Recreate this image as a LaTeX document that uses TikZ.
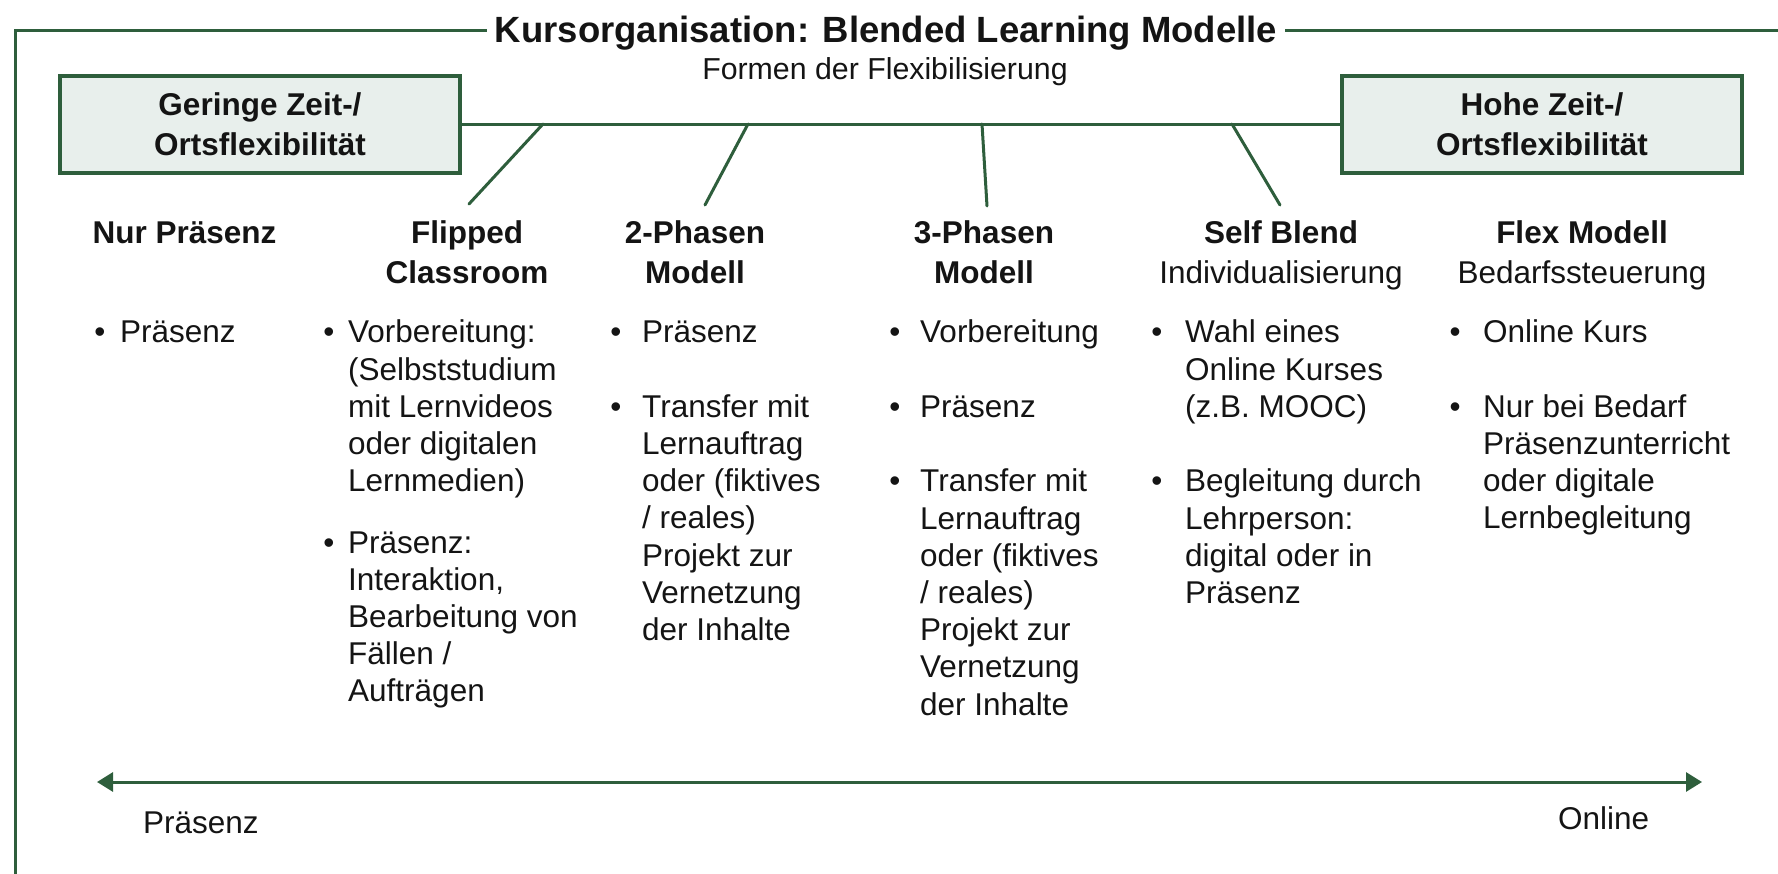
\documentclass[tikz,border=0pt]{standalone}
\usepackage{fontspec}
\setmainfont{Liberation Sans}
\usetikzlibrary{arrows.meta}

\definecolor{framegreen}{RGB}{46,94,60}
\definecolor{boxfill}{RGB}{232,239,236}
\definecolor{ink}{RGB}{20,20,20}

\newcommand\bodyfont{\fontsize{31.5}{37.2}\selectfont}
\newcommand\headfont{\fontsize{31.5}{39.5}\selectfont}
\newcommand\boxfont{\fontsize{31.5}{40}\selectfont\bfseries}

% stacked lines whose baseline is that of the first line
\newcommand\leftlines[1]{\begin{tabular}[t]{@{}l@{}}#1\end{tabular}}
\newcommand\centerlines[1]{\begin{tabular}[t]{@{}c@{}}#1\end{tabular}}

% one bullet point: name, bullet x, text x, baseline y, text
\newcommand\bulletitem[5]{%
  \node[dot] (#1-dot) at (#2,#4) {•};
  \node[itemtext] (#1) at (#3,#4) {\leftlines{#5}};
}

\begin{document}
\begin{tikzpicture}[x=1pt,y=-1pt,
  greenline/.style={draw=framegreen,line width=3pt},
  flexbox/.style={draw=framegreen,line width=3.5pt,fill=boxfill,
    minimum width=400pt,minimum height=97pt,inner sep=0pt,
    align=center,font=\boxfont,text=ink},
  header/.style={anchor=base,font=\headfont,text=ink,inner sep=0pt},
  dot/.style={anchor=base,font=\bodyfont,text=ink,inner sep=0pt},
  itemtext/.style={anchor=base west,font=\bodyfont,text=ink,inner sep=0pt},
]
\useasboundingbox (0,0) rectangle (1778,874);

% outer frame with the title set into its top edge
\draw[greenline,line join=miter] (15,874) -- (15,31) -- (1778,31);
\node[fill=white,inner xsep=8pt,inner ysep=2pt,text=ink,
      font=\fontsize{36.5}{40}\selectfont\bfseries] (title) at (886,33)
  {Kursorganisation: Blended Learning Modelle};
\node[font=\fontsize{30.3}{37}\selectfont,text=ink] (subtitle) at (885,72)
  {Formen der Flexibilisierung};

% flexibility scale
\node[flexbox] (low) at (260,124.5) {Geringe Zeit-/\\Ortsflexibilität};
\node[flexbox] (high) at (1542,124.5) {Hohe Zeit-/\\Ortsflexibilität};
\draw[greenline] (low.east) -- (high.west);

% column headers
\node[header,font=\headfont\bfseries] (nur) at (184.5,244) {Nur Präsenz};
\node[header,font=\headfont\bfseries] (flipped) at (467,244) {\centerlines{Flipped\\Classroom}};
\node[header,font=\headfont\bfseries] (zwei) at (695,244) {\centerlines{2-Phasen\\Modell}};
\node[header,font=\headfont\bfseries] (drei) at (984,244) {\centerlines{3-Phasen\\Modell}};
\node[header] (self) at (1281,244) {\centerlines{\textbf{Self Blend}\\Individualisierung}};
\node[header] (flex) at (1582,244) {\centerlines{\textbf{Flex Modell}\\Bedarfssteuerung}};

% ties from the scale down to the models
\coordinate (t1) at (543,124);  \coordinate (e1) at (469,204);
\coordinate (t2) at (748,124);  \coordinate (e2) at (705,205);
\coordinate (t3) at (982,124);  \coordinate (e3) at (987,206);
\coordinate (t4) at (1232,124); \coordinate (e4) at (1280,205);
\foreach \i in {1,...,4} \draw[greenline,line cap=round] (t\i) -- (e\i);

% bullet lists
\bulletitem{c1a}{100}{120}{343}{Präsenz}

\bulletitem{c2a}{329}{348}{343}{Vorbereitung:\\(Selbststudium\\mit Lernvideos\\oder digitalen\\Lernmedien)}
\bulletitem{c2b}{329}{348}{553}{Präsenz:\\Interaktion,\\Bearbeitung von\\Fällen /\\Aufträgen}

\bulletitem{c3a}{616}{642}{343}{Präsenz}
\bulletitem{c3b}{616}{642}{417.4}{Transfer mit\\Lernauftrag\\oder (fiktives\\/ reales)\\Projekt zur\\Vernetzung\\der Inhalte}

\bulletitem{c4a}{895}{920}{343}{Vorbereitung}
\bulletitem{c4b}{895}{920}{417.4}{Präsenz}
\bulletitem{c4c}{895}{920}{491.8}{Transfer mit\\Lernauftrag\\oder (fiktives\\/ reales)\\Projekt zur\\Vernetzung\\der Inhalte}

\bulletitem{c5a}{1157}{1185}{343}{Wahl eines\\Online Kurses\\(z.B. MOOC)}
\bulletitem{c5b}{1157}{1185}{491.8}{Begleitung durch\\Lehrperson:\\digital oder in\\Präsenz}

\bulletitem{c6a}{1455}{1483}{343}{Online Kurs}
\bulletitem{c6b}{1455}{1483}{417.4}{Nur bei Bedarf\\Präsenzunterricht\\oder digitale\\Lernbegleitung}

% presence / online axis
\coordinate (praesenzend) at (97,782);
\coordinate (onlineend) at (1702,782);
\draw[greenline,{Triangle[length=16pt,width=19pt]}-{Triangle[length=16pt,width=19pt]}]
  (praesenzend) -- (onlineend);
\node[itemtext] (lpraesenz) at (143,833) {Präsenz};
\node[itemtext] (lonline) at (1558,829) {Online};
\end{tikzpicture}
\end{document}
